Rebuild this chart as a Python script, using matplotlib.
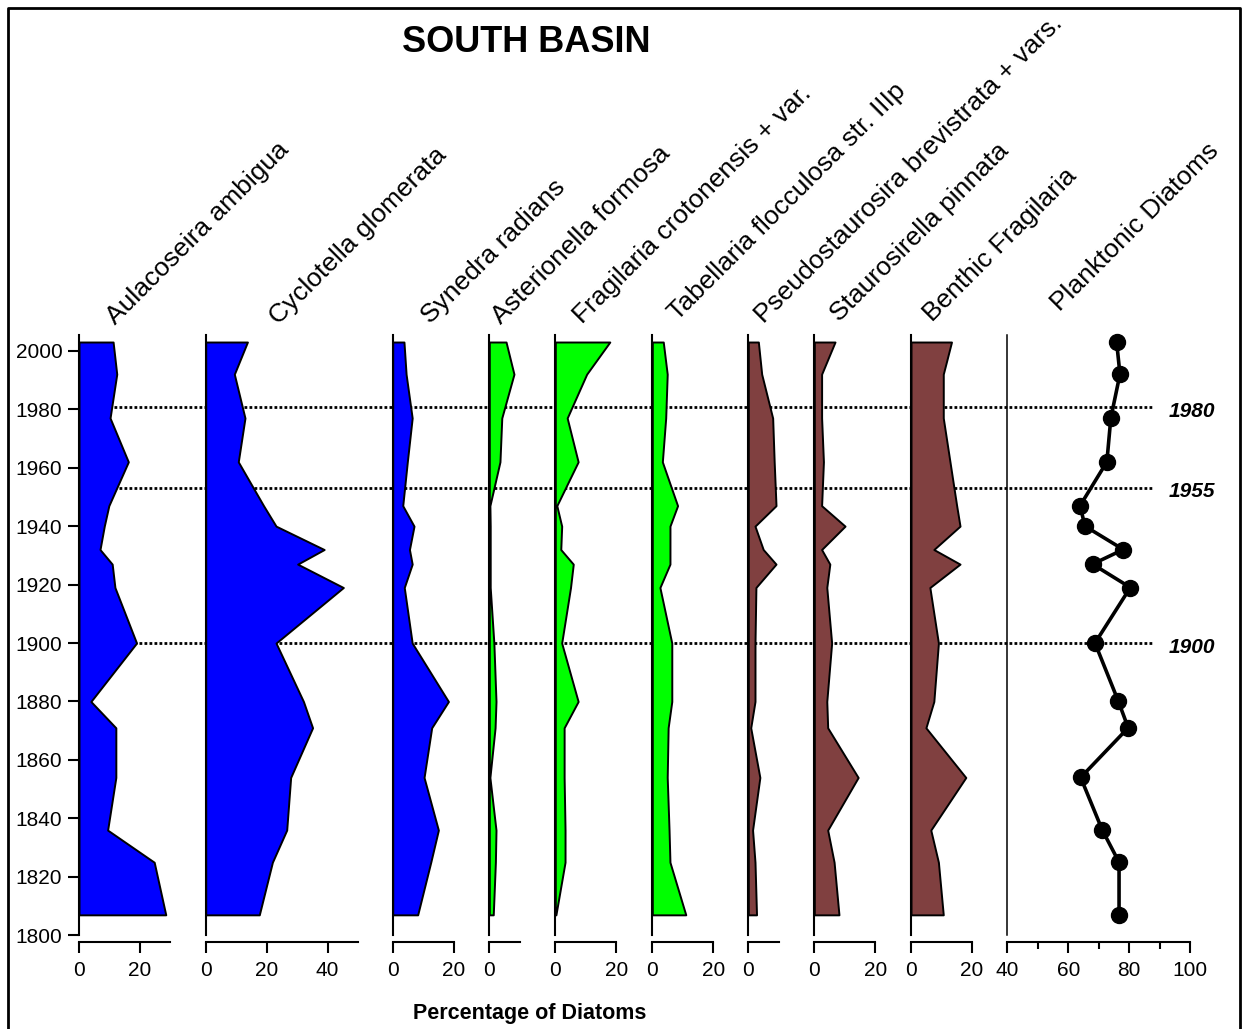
import numpy as np
import matplotlib.pyplot as plt
from matplotlib.lines import Line2D
from matplotlib.transforms import blended_transform_factory

plt.rcParams['font.family'] = ['Liberation Sans', 'DejaVu Sans']

# sample ages (years AD), top to bottom
years = [2003, 1992, 1977, 1962, 1947, 1940, 1932, 1927, 1919, 1900, 1880, 1871, 1854, 1836, 1825, 1807]

aulacoseira = [11.2, 12.4, 10.2, 16.2, 9.8, 8.3, 6.9, 10.9, 11.8, 18.9, 3.9, 12.1, 12.1, 9.4, 24.7, 28.5]
cyclotella = [13.7, 9.4, 12.9, 10.7, 19.0, 23.1, 38.9, 30.2, 45.2, 23.1, 32.1, 35.1, 27.9, 26.6, 21.9, 17.6]
synedra = [3.7, 4.4, 6.4, 4.8, 3.3, 7.0, 5.5, 6.4, 3.8, 6.4, 18.3, 12.8, 10.3, 15.0, 12.5, 8.2]
asterionella = [5.5, 8.1, 4.1, 3.5, 0.2, 0.3, 0.3, 0.3, 0.3, 1.5, 2.2, 1.9, 0.2, 2.2, 2.0, 1.3]
fragilaria_crot = [17.9, 10.3, 3.9, 7.5, 0.5, 2.1, 1.8, 5.9, 5.0, 2.1, 7.5, 2.9, 2.9, 3.2, 3.2, 0.2]
tabellaria = [3.6, 4.9, 4.4, 3.3, 8.3, 5.8, 5.8, 5.8, 2.5, 6.4, 6.4, 5.2, 4.9, 5.5, 5.8, 11.0]
pseudostaurosira = [3.3, 4.4, 8.0, 8.5, 9.1, 2.2, 4.9, 9.1, 2.5, 2.2, 2.2, 0.8, 3.8, 1.4, 2.2, 2.7]
staurosirella = [6.8, 2.4, 2.4, 3.0, 2.4, 10.1, 2.4, 5.1, 4.1, 5.7, 4.1, 4.4, 14.4, 4.4, 6.5, 8.1]
benthic_fragilaria = [13.3, 10.6, 10.6, 12.8, 15.0, 16.1, 7.5, 16.1, 6.2, 9.0, 7.5, 4.9, 18.0, 6.5, 9.0, 10.6]
planktonic = [75.9, 77.0, 74.0, 72.7, 63.9, 65.5, 78.1, 68.0, 80.4, 68.8, 76.5, 79.7, 64.1, 71.2, 76.7, 76.7]

taxa = ['Aulacoseira ambigua', 'Cyclotella glomerata', 'Synedra radians',
        'Asterionella formosa', 'Fragilaria crotonensis + var.',
        'Tabellaria flocculosa str. IIIp', 'Pseudostaurosira brevistrata + vars.',
        'Staurosirella pinnata', 'Benthic Fragilaria', 'Planktonic Diatoms']
series = [aulacoseira, cyclotella, synedra, asterionella, fragilaria_crot,
          tabellaria, pseudostaurosira, staurosirella, benthic_fragilaria, planktonic]

event_years = [1980.7, 1953.2, 1900]
event_labels = ['1980', '1955', '1900']

blue, green, brown = '#0000ff', '#00ff00', '#804040'
colors = [blue, blue, blue, green, green, green, brown, brown, brown, 'black']

# layout (pixels)
W, H = 1244, 1029
def fx(px): return px / W
def fy(py): return 1 - py / H

top_px, bot_px = 335, 935.3
px_per_unit = 3.045
panel_left = [79, 205.7, 392.7, 489.3, 555.3, 652.3, 748.3, 814.3, 911, 1007.3]
panel_xlim = [(0, 30), (0, 50), (0, 20), (0, 10), (0, 20), (0, 20), (0, 10), (0, 20), (0, 20), (40, 100)]
panel_ticks = [[0, 20], [0, 20, 40], [0, 20], [0], [0, 20], [0, 20], [0], [0, 20], [0, 20], [40, 60, 80, 100]]
label_pos = [(115, 325), (278, 325), (430, 324), (501, 325), (582, 324),
             (677, 321), (764, 324), (839, 322), (932, 322), (1060, 312)]
ylim = (1800, 2005.4)

fig = plt.figure(figsize=(W / 100, H / 100), dpi=100)
ax_h = fy(top_px) - fy(bot_px)

# dotted event lines behind the panels
ov = fig.add_axes([fx(79), fy(bot_px), fx(1153 - 79), ax_h], zorder=0)
ov.set_xlim(0, 1)
ov.set_ylim(ylim)
ov.axis('off')
tr = blended_transform_factory(fig.transFigure, ov.transData)
for yr, lab in zip(event_years, event_labels):
    ov.axhline(yr, color='black', linestyle=(0, (1, 0.8)), lw=2.0)
    ov.text(fx(1169), yr - 1.4, lab, transform=tr, ha='left', va='center',
            fontsize=15, fontweight='bold', fontstyle='italic', clip_on=False)

for i, (name, vals) in enumerate(zip(taxa, series)):
    lo, hi = panel_xlim[i]
    w = (hi - lo) * px_per_unit
    ax = fig.add_axes([fx(panel_left[i]), fy(bot_px), w / W, ax_h], zorder=1)
    ax.patch.set_alpha(0)
    ax.set_xlim(lo, hi)
    ax.set_ylim(ylim)
    if i < 9:
        ax.fill_betweenx(years, lo, vals, facecolor=colors[i], edgecolor='black', lw=1.4)
    else:
        ax.plot(vals, years, 'o-', color='black', lw=2.6, ms=11.5, clip_on=False)
        ax.set_xticks([50, 70, 90], minor=True)
        ax.tick_params(axis='x', which='minor', direction='out', length=5, width=1.5)
    for s in ['top', 'right']:
        ax.spines[s].set_visible(False)
    ax.spines['left'].set_linewidth(1.5 if i < 9 else 1.1)
    ax.spines['bottom'].set_linewidth(1.5)
    ax.spines['bottom'].set_position(('outward', 4.5))
    ax.set_xticks(panel_ticks[i])
    ax.tick_params(axis='x', which='major', direction='out', length=8, width=1.5,
                   pad=6, labelsize=15)
    if i == 0:
        ax.set_yticks(np.arange(1800, 2001, 20))
        ax.tick_params(axis='y', direction='out', length=8, width=1.5, pad=4, labelsize=15)
    else:
        ax.set_yticks([])
    lx, ly = label_pos[i]
    fig.text(fx(lx), fy(ly), name, rotation=45, rotation_mode='anchor',
             ha='left', va='baseline', fontsize=19)

fig.text(fx(526), fy(43), 'SOUTH BASIN', ha='center', va='center',
         fontsize=26, fontweight='bold')
fig.text(fx(530), fy(1014), 'Percentage of Diatoms', ha='center', va='center',
         fontsize=15.5, fontweight='bold')

# outer frame (left, top, right)
fig.add_artist(Line2D([fx(8), fx(8), fx(1240), fx(1240)], [0, fy(8), fy(8), 0],
                      transform=fig.transFigure, color='black', lw=2))

fig.savefig('out.png', dpi=100)
